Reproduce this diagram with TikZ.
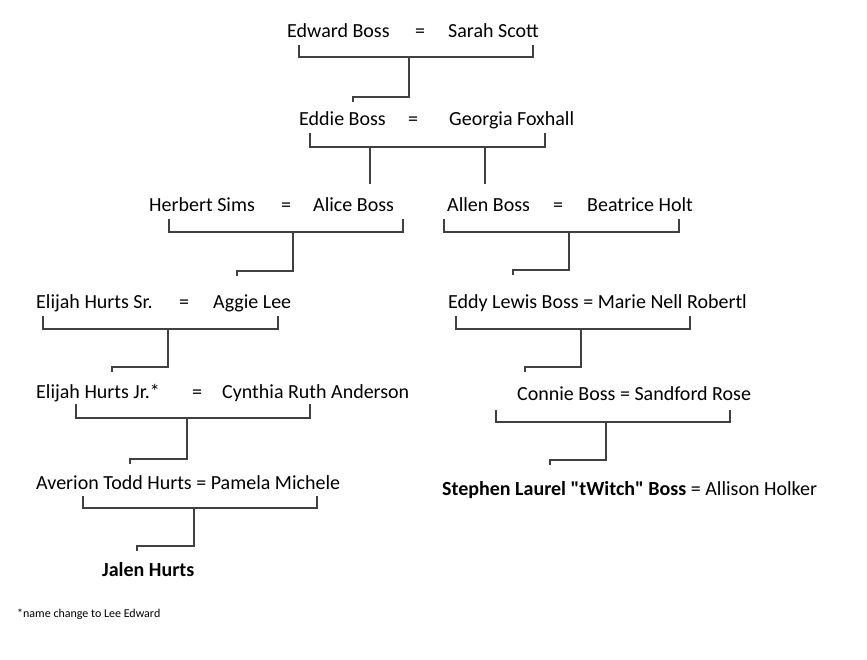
\documentclass[tikz,border=0pt]{standalone}
\usepackage{fontspec}
\setmainfont{Carlito}[Ligatures=TeXOff]
\usepackage{tikz}
\usetikzlibrary{calc}

\begin{document}
\begin{tikzpicture}[x=1pt,y=-1pt]
\tikzset{
  pn/.style={anchor=base west,inner sep=0pt,font=\fontsize{20}{24}\selectfont},
  bn/.style={pn,font=\fontsize{20}{24}\selectfont\bfseries},
  fn/.style={anchor=base west,inner sep=0pt,font=\fontsize{12}{14}\selectfont},
  ln/.style={line width=1.2pt,draw=black!75}
}
\useasboundingbox (0,0) rectangle (867,659);
% names, row by row (y grows downwards)
\node[pn] (edward) at (287,37) {Edward Boss};
\node[pn] (eq1) at (415,37) {=};
\node[pn] (sarah) at (448,37) {Sarah Scott};
\node[pn] (eddie) at (299,125) {Eddie Boss};
\node[pn] (eq2) at (408,125) {=};
\node[pn] (georgia) at (449,125) {Georgia Foxhall};
\node[pn] (herbert) at (149,211) {Herbert Sims};
\node[pn] (eq3) at (281,211) {=};
\node[pn] (alice) at (313,211) {Alice Boss};
\node[pn] (allen) at (447,211) {Allen Boss};
\node[pn] (eq4) at (553,211) {=};
\node[pn] (beatrice) at (587,211) {Beatrice Holt};
\node[pn] (elijahsr) at (36,308) {Elijah Hurts Sr.};
\node[pn] (eq5) at (179,308) {=};
\node[pn] (aggie) at (213,308) {Aggie Lee};
\node[pn] (eddy) at (448,308) {Eddy Lewis Boss = Marie Nell Robertl};
\node[pn] (elijahjr) at (36,398) {Elijah Hurts Jr.*};
\node[pn] (eq6) at (192,398) {=};
\node[pn] (cynthia) at (222,398) {Cynthia Ruth Anderson};
\node[pn] (connie) at (517,400) {Connie Boss = Sandford Rose};
\node[pn] (averion) at (36,489) {Averion Todd Hurts = Pamela Michele};
\node[pn] (stephen) at (442,495) {\textbf{Stephen Laurel "tWitch" Boss} = Allison Holker};
\node[bn] (jalen) at (102,576) {Jalen Hurts};
\node[fn] (note) at (17,617) {*name change to Lee Edward};
% bracket corners: l/r legs, m drop on bar, k tick corner
\coordinate (al) at (299,45);  \coordinate (ar) at (533,45);  \coordinate (am) at (409,57);  \coordinate (ak) at (353,97);
\coordinate (bl) at (310,133); \coordinate (br) at (545,133); \coordinate (bm) at (370,147); \coordinate (bn) at (485,147);
\coordinate (cl) at (169,219); \coordinate (cr) at (403,219); \coordinate (cm) at (293,232); \coordinate (ck) at (237,271);
\coordinate (dl) at (444,219); \coordinate (dr) at (679,219); \coordinate (dm) at (569,232); \coordinate (dk) at (513,270);
\coordinate (el) at (43,316);  \coordinate (er) at (278,316); \coordinate (em) at (168,329); \coordinate (ek) at (112,367);
\coordinate (fl) at (456,316); \coordinate (fr) at (690,316); \coordinate (fm) at (581,329); \coordinate (fk) at (525,367);
\coordinate (gl) at (76,404);  \coordinate (gr) at (310,404); \coordinate (gm) at (187,418); \coordinate (gk) at (130,459);
\coordinate (hl) at (496,410); \coordinate (hr) at (730,410); \coordinate (hm) at (606,422); \coordinate (hk) at (550,460);
\coordinate (il) at (83,496);  \coordinate (ir) at (317,496); \coordinate (im) at (194,508); \coordinate (ik) at (137,546);
\coordinate (bc) at (370,184); \coordinate (bd) at (485,184);
\foreach \f in {a,c,d,e,f,g,h,i}{
  \draw[ln] (\f l) |- (\f m) -| (\f r);
  \draw[ln] (\f m) |- (\f k) -- ++(0,5);
}
\draw[ln] (bl) |- (bm) -- (bn) -| (br);
\draw[ln] (bm) -- (bc);
\draw[ln] (bn) -- (bd);
\end{tikzpicture}
\end{document}
